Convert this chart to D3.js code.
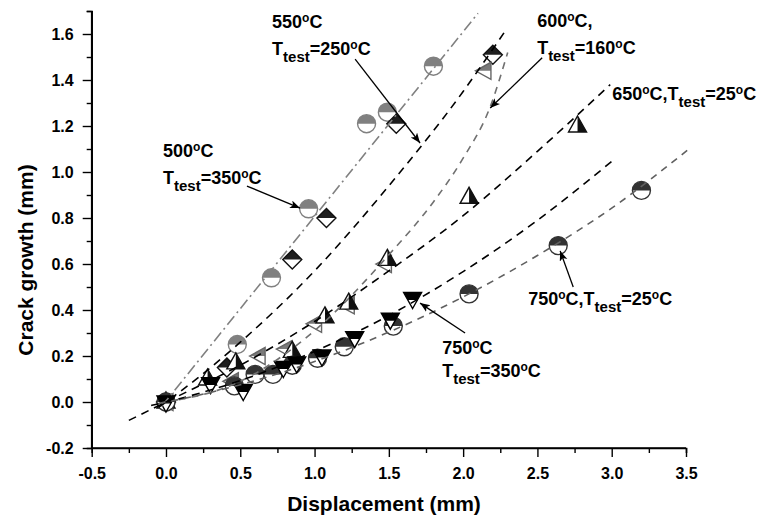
<!DOCTYPE html>
<html><head><meta charset="utf-8">
<script src="https://cdn.jsdelivr.net/npm/d3@7"></script>
<style>
body{margin:0;background:#fff}
svg{display:block}
text{font-family:"Liberation Sans",Arial,Helvetica,sans-serif;font-weight:bold;fill:#000}
</style>
</head><body>
<svg id="c" width="761" height="520"></svg>
<script>
// ---------- data ----------
const xTicks = [-0.5, 0.0, 0.5, 1.0, 1.5, 2.0, 2.5, 3.0, 3.5];
const yTicks = [-0.2, 0.0, 0.2, 0.4, 0.6, 0.8, 1.0, 1.2, 1.4, 1.6];
const xMinor = [-0.25, 0.25, 0.75, 1.25, 1.75, 2.25, 2.75, 3.25];
const yMinor = [-0.1, 0.1, 0.3, 0.5, 0.7, 0.9, 1.1, 1.3, 1.5, 1.7];

// scatter series
const s500x = [0, 0.48, 0.71, 0.96, 1.35, 1.49, 1.80];
const s500y = [0, 0.25, 0.54, 0.84, 1.21, 1.26, 1.46];
const s550x = [0, 0.41, 0.85, 1.08, 1.55, 2.20];
const s550y = [0, 0.15, 0.62, 0.80, 1.21, 1.51];
const s600x = [0, 0.44, 0.62, 0.80, 1.00, 1.22, 1.47, 2.14];
const s600y = [0, 0.09, 0.20, 0.23, 0.34, 0.42, 0.60, 1.44];
const s650x = [0, 0.28, 0.47, 0.85, 1.07, 1.23, 1.49, 2.04, 2.77];
const s650y = [0, 0.10, 0.17, 0.22, 0.37, 0.43, 0.62, 0.89, 1.20];
const s750ax = [0, 0.46, 0.60, 0.72, 0.85, 1.02, 1.20, 1.53, 2.04, 2.64, 3.20];
const s750ay = [0, 0.07, 0.12, 0.12, 0.16, 0.19, 0.24, 0.33, 0.47, 0.68, 0.92];
const s750bx = [0, 0.30, 0.52, 0.79, 0.88, 1.05, 1.27, 1.51, 1.66];
const s750by = [0, 0.08, 0.05, 0.15, 0.17, 0.20, 0.28, 0.36, 0.45];

// fitted curves
const f500x = [-0.03, 2.10];
const f500y = [-0.02, 1.69];
const f550x = [-0.05, 0, 0.5, 1.0, 1.5, 2.0, 2.28];
const f550y = [-0.023, 0, 0.26, 0.57, 0.94, 1.35, 1.61];
const f600x = [0, 0.5, 1.0, 1.5, 1.8, 2.0, 2.18, 2.30];
const f600y = [0, 0.09, 0.31, 0.64, 0.87, 1.06, 1.28, 1.52];
const f650x = [-0.25, 0, 0.5, 1.0, 1.5, 2.0, 2.5, 2.99];
const f650y = [-0.08, 0, 0.16, 0.35, 0.57, 0.81, 1.09, 1.38];
const f750bx = [-0.1, 0, 0.5, 1.0, 1.5, 2.0, 2.5, 3.0];
const f750by = [-0.015, 0, 0.093, 0.22, 0.376, 0.567, 0.79, 1.046];
const f750ax = [-0.05, 0, 0.5, 1.0, 1.5, 2.0, 2.5, 3.0, 3.52];
const f750ay = [-0.006, 0, 0.075, 0.176, 0.304, 0.457, 0.637, 0.843, 1.10];

// annotation texts
const annTexts = [
  ["500^oC", "T_test=350^oC"],
  ["550^oC", "T_test=250^oC"],
  ["600^oC,", "T_test=160^oC"],
  ["650^oC,T_test=25^oC"],
  ["750^oC,T_test=25^oC"],
  ["750^oC", "T_test=350^oC"]
];

// ---------- layout ----------
const W = 761, H = 520;
const x = d3.scaleLinear().domain([-0.5, 3.5]).range([91.7, 686]);
const y = d3.scaleLinear().domain([-0.2, 1.7]).range([448, 11]);

const svg = d3.select("#c");
const defs = svg.append("defs");
defs.append("clipPath").attr("id","topHalf").attr("clipPathUnits","userSpaceOnUse")
  .append("rect").attr("x",-20).attr("y",-20).attr("width",40).attr("height",20);
defs.append("clipPath").attr("id","topHalfDown").attr("clipPathUnits","userSpaceOnUse")
  .append("rect").attr("x",-20).attr("y",-20).attr("width",40).attr("height",21.5);
defs.append("clipPath").attr("id","rightHalf").attr("clipPathUnits","userSpaceOnUse")
  .append("rect").attr("x",0).attr("y",-20).attr("width",20).attr("height",40);
defs.append("marker").attr("id","arr").attr("markerUnits","userSpaceOnUse")
  .attr("markerWidth",12).attr("markerHeight",10).attr("refX",10).attr("refY",4)
  .attr("orient","auto")
  .append("path").attr("d","M0,0 L10,4 L0,8 L2.5,4 Z").attr("fill","#000");

// ---------- axes ----------
const fmt = d => d.toFixed(1);
const gx = svg.append("g").attr("transform",`translate(0,${y(-0.2)})`);
gx.call(d3.axisBottom(x).tickValues(xTicks).tickSize(9).tickPadding(11).tickFormat(fmt));
gx.append("g").call(d3.axisBottom(x).tickValues(xMinor).tickSize(5).tickFormat(""));
const gy = svg.append("g").attr("transform",`translate(${x(-0.5)},0)`);
gy.call(d3.axisLeft(y).tickValues(yTicks).tickSize(9).tickPadding(9).tickFormat(fmt));
gy.append("g").call(d3.axisLeft(y).tickValues(yMinor).tickSize(5).tickFormat(""));
svg.selectAll(".domain").attr("stroke","#000").attr("stroke-width",1.6);
svg.selectAll(".tick line").attr("stroke","#000").attr("stroke-width",1.4);
svg.selectAll(".tick text").attr("font-size",16).attr("font-family","Liberation Sans, Arial, sans-serif").attr("font-weight","bold").attr("fill","#000");
gx.select(".domain").attr("d", `M${x(-0.5)},0H${x(3.5)}`);
gy.select(".domain").attr("d", `M0,${y(1.7)}V${y(-0.2)}`);

svg.append("text").attr("x",384).attr("y",511).attr("text-anchor","middle")
  .attr("font-size",21).text("Displacement (mm)");
svg.append("text").attr("transform","translate(33,260) rotate(-90)").attr("text-anchor","middle")
  .attr("font-size",21).text("Crack growth (mm)");

// ---------- markers ----------
const shapes = {
  circle: "M9,0A9,9 0 1,1 -9,0A9,9 0 1,1 9,0Z",
  diamond: "M0,-9.5L9.5,0L0,9.5L-9.5,0Z",
  up: "M0,-10L9,6L-9,6Z",
  down: "M0,10L9,-6L-9,-6Z",
  left: "M-8.5,0L7,-8.5L7,8.5Z"
};
const series = [
  {xs:s500x, ys:s500y, shape:"circle", fill:"#808080", stroke:"#808080", clip:"topHalf"},
  {xs:s550x, ys:s550y, shape:"diamond", fill:"#1e1e1e", stroke:"#111", clip:"topHalf"},
  {xs:s600x, ys:s600y, shape:"left", fill:"#7a7a7a", stroke:"#666", clip:"topHalf"},
  {xs:s650x, ys:s650y, shape:"up", fill:"#111", stroke:"#111", clip:"rightHalf"},
  {xs:s750ax, ys:s750ay, shape:"circle", fill:"#333", stroke:"#333", clip:"topHalf"},
  {xs:s750bx, ys:s750by, shape:"down", fill:"#000", stroke:"#000", clip:"topHalfDown"}
];
const gm = svg.append("g");
series.forEach(s => {
  const pts = s.xs.map((v,i)=>[v, s.ys[i]]);
  const g = gm.selectAll(null).data(pts).join("g")
    .attr("transform", d => `translate(${x(d[0])},${y(d[1])})`);
  g.append("path").attr("d", shapes[s.shape]).attr("fill","#fff");
  g.append("path").attr("d", shapes[s.shape]).attr("fill", s.fill).attr("clip-path",`url(#${s.clip})`);
  g.append("path").attr("d", shapes[s.shape]).attr("fill","none").attr("stroke", s.stroke).attr("stroke-width",1.4);
});

// ---------- fitted lines ----------
const fits = [
  {xs:f500x, ys:f500y, color:"#808080", dash:"11,4,2,4", w:1.6},
  {xs:f550x, ys:f550y, color:"#000", dash:"8,6", w:1.6},
  {xs:f600x, ys:f600y, color:"#707070", dash:"7,6", w:1.6},
  {xs:f650x, ys:f650y, color:"#000", dash:"8,6", w:1.6},
  {xs:f750bx, ys:f750by, color:"#000", dash:"8,6", w:1.6},
  {xs:f750ax, ys:f750ay, color:"#606060", dash:"7,6", w:1.6}
];
const line = d3.line().x(d=>x(d[0])).y(d=>y(d[1])).curve(d3.curveMonotoneX);
fits.forEach(f => {
  svg.append("path").datum(f.xs.map((v,i)=>[v,f.ys[i]]))
    .attr("d", line).attr("fill","none").attr("stroke", f.color)
    .attr("stroke-width", f.w).attr("stroke-dasharray", f.dash);
});

// ---------- annotations ----------
// text anchor (left, baseline) and line gap in data units; arrows from -> to in data units
const annPos = [
  {tx:-0.02, ty:[1.065, 0.948], arrow:[[0.545,0.939],[0.902,0.843]]},
  {tx:0.714, ty:[1.626, 1.509], arrow:[[1.273,1.491],[1.710,1.126]]},
  {tx:2.498, ty:[1.630, 1.515], arrow:[[2.532,1.497],[2.182,1.278]]},
  {tx:3.003, ty:[1.313], arrow:null},
  {tx:2.438, ty:[0.422], arrow:[[2.741,0.500],[2.653,0.657]]},
  {tx:1.859, ty:[0.209, 0.109], arrow:[[2.013,0.300],[1.710,0.430]]}
];
function rich(sel, str){
  const parts = str.split(/(\^o|_test)/).filter(s=>s);
  let shift = 0;
  parts.forEach(p=>{
    let size = 18, target = 0, t = p;
    if (p === "^o"){ size = 12; target = -6; t = "o"; }
    else if (p === "_test"){ size = 15; target = 7; t = "test"; }
    sel.append("tspan").attr("font-size", size).attr("dy", target - shift).text(t);
    shift = target;
  });
}
annTexts.forEach((lines, i) => {
  const a = annPos[i];
  lines.forEach((ln, j) => {
    const t = svg.append("text").attr("x", x(a.tx)).attr("y", y(a.ty[j])).attr("font-size",18);
    rich(t, ln);
  });
  if (a.arrow){
    svg.append("line")
      .attr("x1", x(a.arrow[0][0])).attr("y1", y(a.arrow[0][1]))
      .attr("x2", x(a.arrow[1][0])).attr("y2", y(a.arrow[1][1]))
      .attr("stroke","#000").attr("stroke-width",1.3).attr("marker-end","url(#arr)");
  }
});
</script>
</body></html>
